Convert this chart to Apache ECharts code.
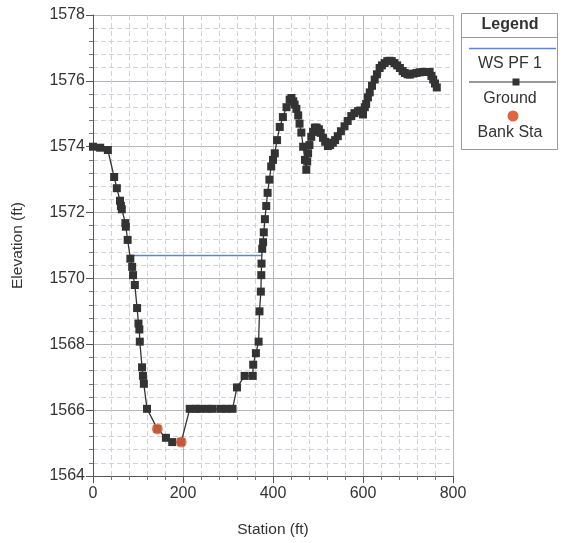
<!DOCTYPE html>
<html>
<head>
<meta charset="utf-8">
<script src="https://cdn.jsdelivr.net/npm/echarts@6/dist/echarts.min.js"></script>
<style>
  html, body { margin: 0; padding: 0; background: #ffffff; }
  #chart { width: 564px; height: 543px; }
</style>
</head>
<body>
<div id="chart"></div>
<script>
// Cross-section: ground profile, water surface and bank stations
const groundStation = [0, 16, 33, 47, 53, 60, 62, 64, 72, 73, 77, 83, 87, 89, 93, 98, 101, 103, 104, 109, 111, 113, 120,
  143, 162, 176, 196, 215, 228, 237, 253, 266, 284, 297, 310, 320, 337, 355, 356, 362, 368, 370, 373, 374, 374.5,
  376, 378, 379.5, 382, 385, 388, 392, 396, 400, 404, 409, 415, 422, 430, 437,
  441, 445, 448, 452, 456, 459, 463, 467, 471, 474, 476, 478, 481, 485, 489, 493, 497, 502, 506, 511, 516, 522, 527,
  533, 538, 544, 551, 559, 566, 574, 581, 589, 594, 600, 604, 607, 611, 615, 620, 626, 631, 637, 642, 648, 654,
  659, 664, 670, 676, 682, 688, 693, 699, 704, 712, 719, 726, 733, 740, 748, 752, 756, 760, 764];
const groundElev = [1574.0, 1573.97, 1573.9, 1573.08, 1572.74, 1572.36, 1572.2, 1572.1, 1571.68, 1571.57, 1571.17,
  1570.6, 1570.35, 1570.1, 1569.8, 1569.1, 1568.63, 1568.45, 1568.08, 1567.3, 1567.04, 1566.8, 1566.04,
  1565.43, 1565.16, 1565.03, 1565.03, 1566.04, 1566.04, 1566.04, 1566.04, 1566.04, 1566.04, 1566.04, 1566.04,
  1566.69, 1567.04, 1567.04, 1567.38, 1567.73, 1568.08, 1569.0, 1569.6, 1570.1, 1570.45,
  1570.9, 1571.1, 1571.4, 1571.8, 1572.2, 1572.6, 1573.0, 1573.4, 1573.6, 1573.8, 1574.2, 1574.6, 1574.9, 1575.2, 1575.43,
  1575.48, 1575.38, 1575.28, 1575.15, 1574.95, 1574.7, 1574.43, 1574.0, 1573.6, 1573.3, 1573.55, 1573.8, 1574.05,
  1574.3, 1574.45, 1574.58, 1574.58, 1574.53, 1574.42, 1574.27, 1574.15, 1574.02, 1574.05,
  1574.12, 1574.2, 1574.32, 1574.47, 1574.62, 1574.78, 1574.93, 1575.02, 1575.08, 1575.1, 1574.98, 1575.2, 1575.3,
  1575.5, 1575.65, 1575.85, 1576.04, 1576.2, 1576.39, 1576.47, 1576.54, 1576.6,
  1576.61, 1576.6, 1576.54, 1576.47, 1576.39, 1576.3, 1576.24, 1576.2, 1576.19, 1576.22, 1576.24, 1576.26, 1576.27,
  1576.27, 1576.27, 1576.15, 1576.04, 1575.92, 1575.8];

const wsStation = [84, 375];
const wsElev = [1570.7, 1570.7];

const bankStation = [143, 196];
const bankElev = [1565.43, 1565.03];

const xTicks = [0, 200, 400, 600, 800];
const yTicks = [1564, 1566, 1568, 1570, 1572, 1574, 1576, 1578];

const FONT = 'Liberation Sans, Arial, Helvetica, sans-serif';
const zip = (a, b) => a.map((v, i) => [v, b[i]]);

const chart = echarts.init(document.getElementById('chart'), null, { renderer: 'canvas' });

const axisCommon = {
  axisLine: { show: true, lineStyle: { color: '#555', width: 1 } },
  axisTick: { show: true, length: 7, inside: false, lineStyle: { color: '#555' } },
  minorTick: { show: true, splitNumber: 5, length: 4, lineStyle: { color: '#777' } },
  splitLine: { show: true, lineStyle: { color: '#b4b4bc', width: 1 } },
  minorSplitLine: { show: true, lineStyle: { color: '#d2d3da', width: 1, type: [5, 3] } },
  axisLabel: { color: '#333', fontSize: 16, fontFamily: FONT, formatter: v => String(v) },
  nameTextStyle: { color: '#333', fontSize: 15.5, fontFamily: FONT },
  nameLocation: 'middle'
};

chart.setOption({
  animation: false,
  backgroundColor: '#ffffff',
  grid: { left: 93, top: 15, width: 360, height: 463 },
  xAxis: Object.assign({}, axisCommon, {
    type: 'value', min: xTicks[0], max: xTicks[xTicks.length - 1], interval: 200,
    name: 'Station (ft)', nameGap: 46,
    axisLabel: Object.assign({}, axisCommon.axisLabel, { margin: 10 })
  }),
  yAxis: Object.assign({}, axisCommon, {
    type: 'value', min: yTicks[0], max: yTicks[yTicks.length - 1], interval: 2,
    name: 'Elevation (ft)', nameGap: 67,
    axisLabel: Object.assign({}, axisCommon.axisLabel, { margin: 8 })
  }),
  series: [
    {
      name: 'WS PF 1', type: 'line', data: zip(wsStation, wsElev),
      symbol: 'none', lineStyle: { color: '#5b86d4', width: 1.5 }, z: 2
    },
    {
      name: 'Ground', type: 'line', data: zip(groundStation, groundElev),
      symbol: 'rect', symbolSize: 8, showAllSymbol: true,
      itemStyle: { color: '#333' }, lineStyle: { color: '#333', width: 1.3 }, z: 3
    },
    {
      name: 'Bank Sta', type: 'scatter', data: zip(bankStation, bankElev),
      symbol: 'circle', symbolSize: 11,
      itemStyle: { color: '#e0653e' }, z: 4
    }
  ],
  graphic: [
    { type: 'rect', shape: { x: 461.5, y: 13.5, width: 96, height: 136 },
      style: { fill: '#fff', stroke: '#999', lineWidth: 1 } },
    { type: 'line', shape: { x1: 461.5, y1: 37.5, x2: 557.5, y2: 37.5 }, style: { stroke: '#999', lineWidth: 1 } },
    { type: 'text', x: 510, y: 25, style: { text: 'Legend', font: 'bold 16px ' + FONT, fill: '#333', align: 'center', verticalAlign: 'middle' } },
    { type: 'line', shape: { x1: 469, y1: 48.5, x2: 556, y2: 48.5 }, style: { stroke: '#5b86d4', lineWidth: 1.5 } },
    { type: 'text', x: 510, y: 64, style: { text: 'WS PF 1', font: '16px ' + FONT, fill: '#333', align: 'center', verticalAlign: 'middle' } },
    { type: 'line', shape: { x1: 469, y1: 82, x2: 556, y2: 82 }, style: { stroke: '#333', lineWidth: 1.2 } },
    { type: 'rect', shape: { x: 512.5, y: 78.5, width: 7, height: 7 }, style: { fill: '#333' } },
    { type: 'text', x: 510, y: 99, style: { text: 'Ground', font: '16px ' + FONT, fill: '#333', align: 'center', verticalAlign: 'middle' } },
    { type: 'circle', shape: { cx: 513, cy: 116, r: 5.5 }, style: { fill: '#e0653e' } },
    { type: 'text', x: 510, y: 133, style: { text: 'Bank Sta', font: '16px ' + FONT, fill: '#333', align: 'center', verticalAlign: 'middle' } }
  ]
});
</script>
</body>
</html>
